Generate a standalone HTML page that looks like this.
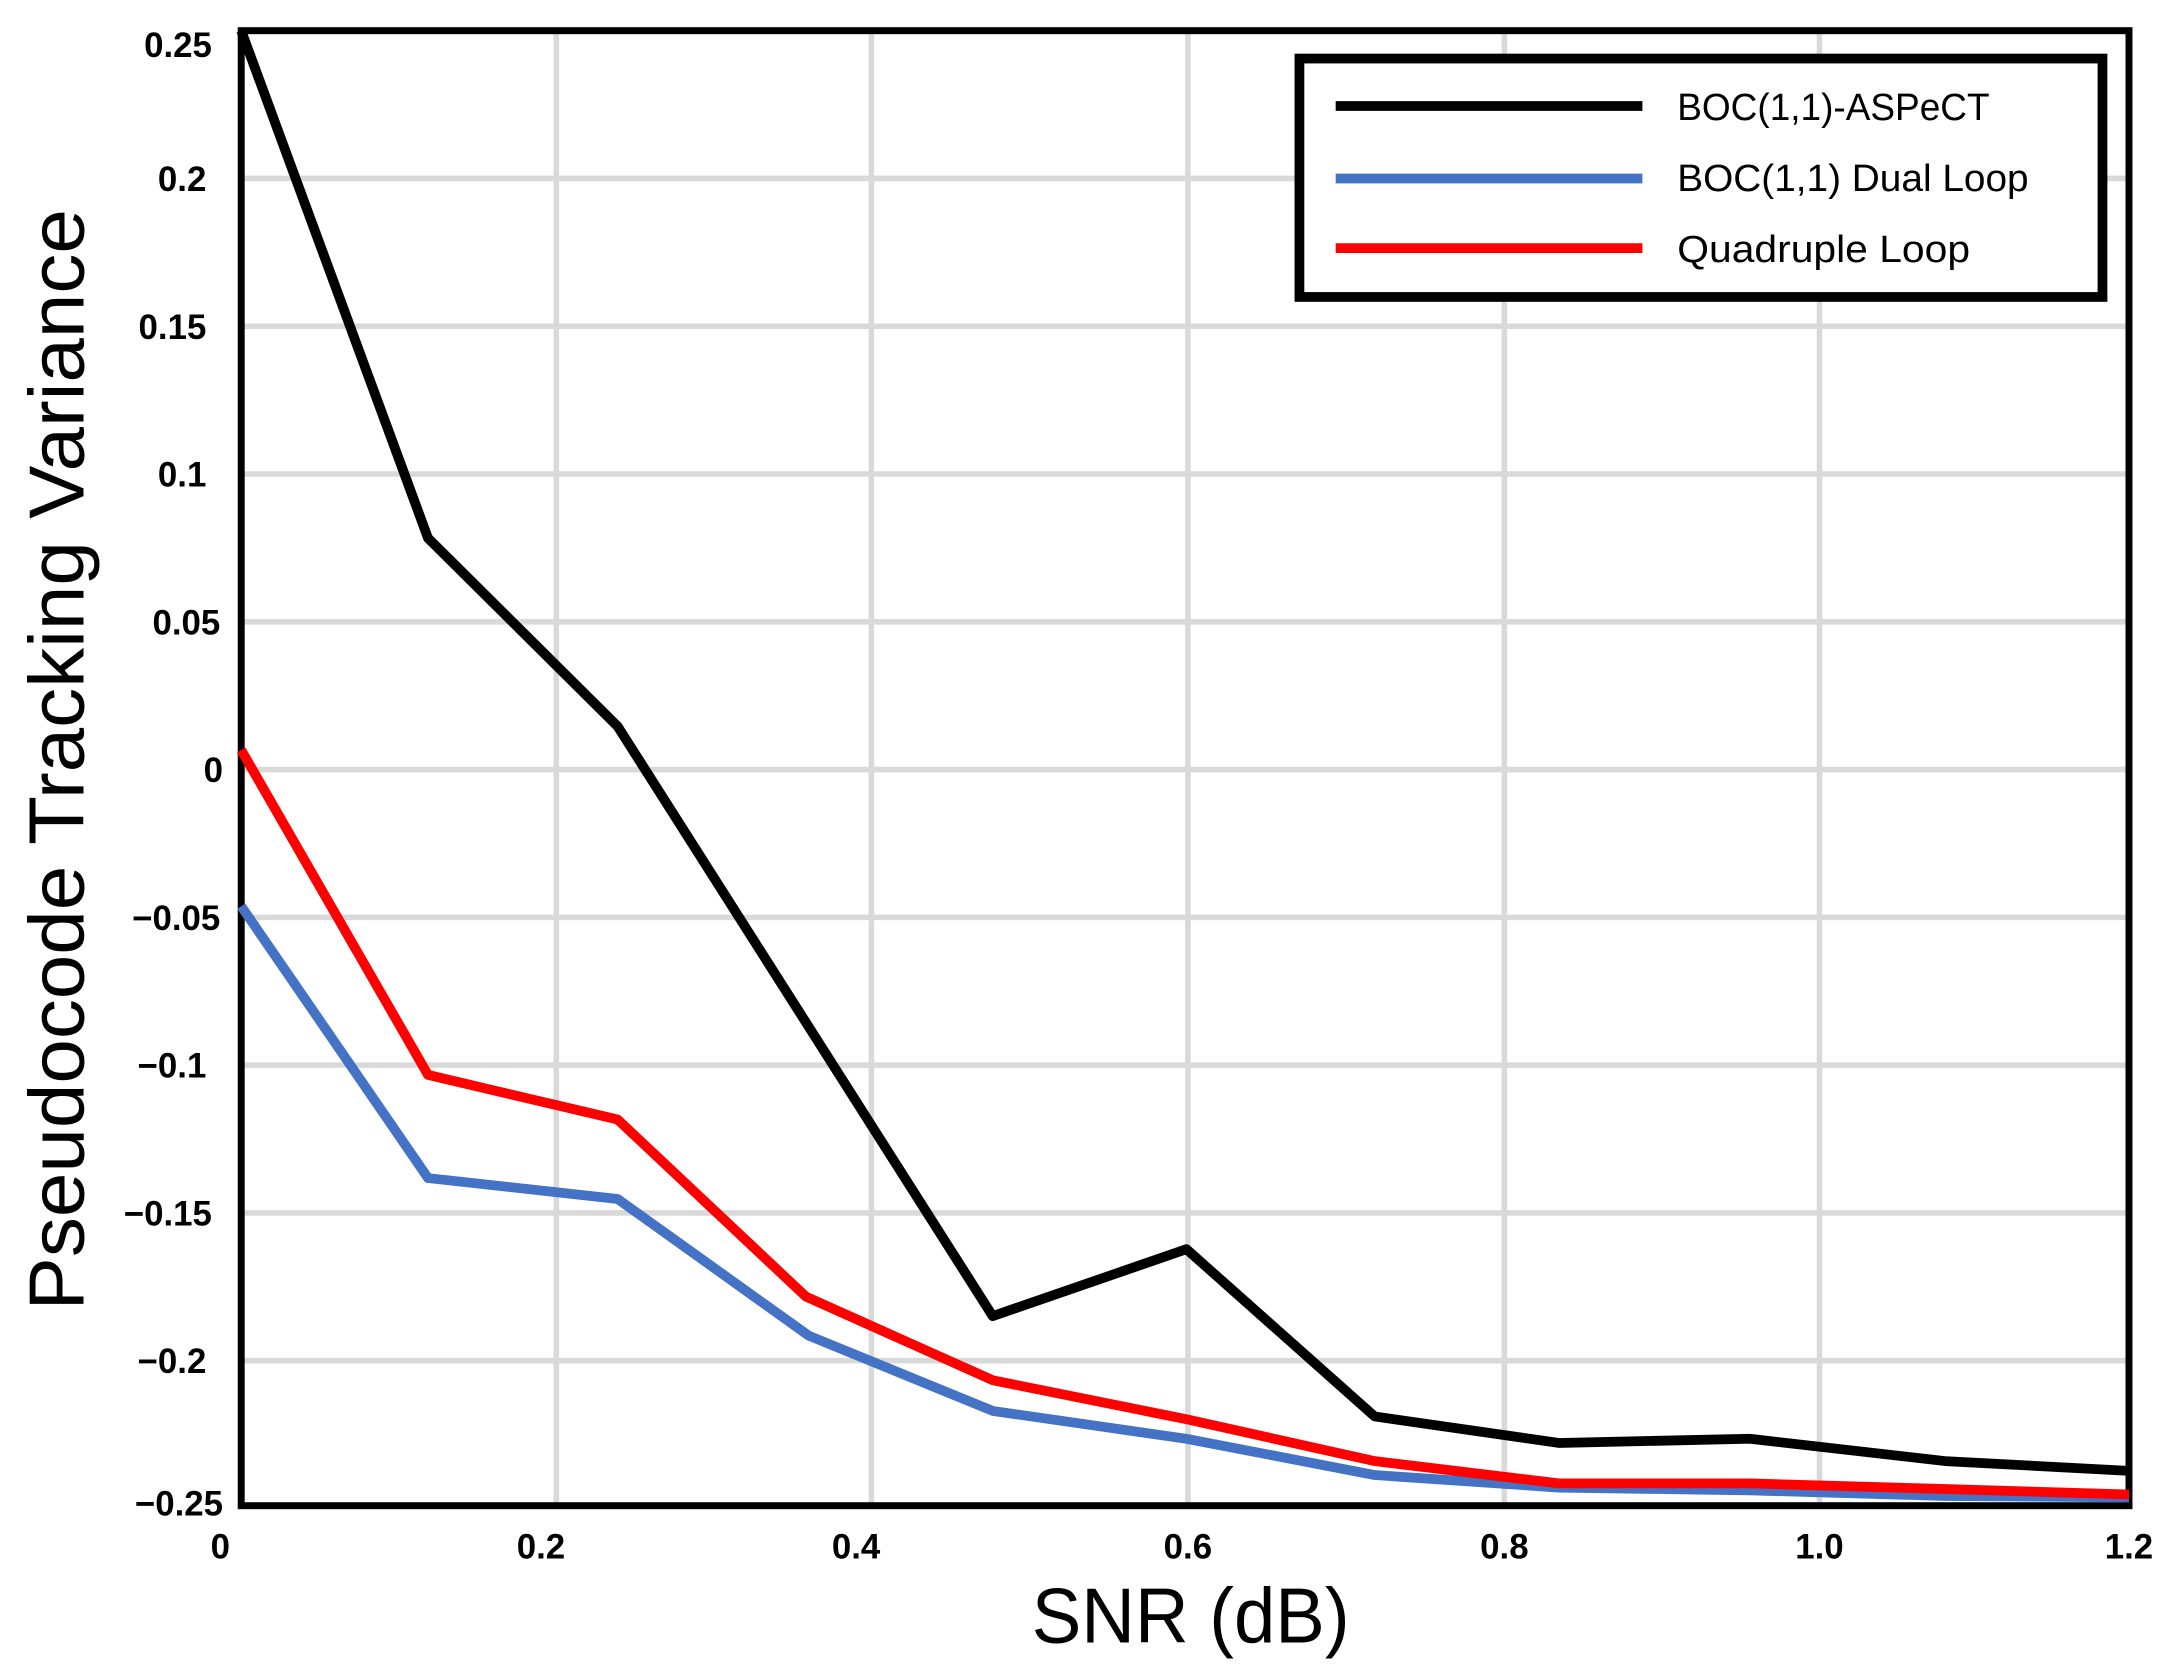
<!DOCTYPE html>
<html><head><meta charset="utf-8"><style>
html,body{margin:0;padding:0;background:#fff;}
svg{display:block;}
text{font-family:"Liberation Sans",sans-serif;}
</style></head><body>
<svg width="2175" height="1673" viewBox="0 0 1560 1200" preserveAspectRatio="none" xmlns="http://www.w3.org/2000/svg">
<g stroke="#d9d9d9" stroke-width="4">
<line x1="173" y1="128" x2="1527" y2="128"/>
<line x1="173" y1="234" x2="1527" y2="234"/>
<line x1="173" y1="340" x2="1527" y2="340"/>
<line x1="173" y1="446" x2="1527" y2="446"/>
<line x1="173" y1="552" x2="1527" y2="552"/>
<line x1="173" y1="658" x2="1527" y2="658"/>
<line x1="173" y1="764" x2="1527" y2="764"/>
<line x1="173" y1="870" x2="1527" y2="870"/>
<line x1="173" y1="976" x2="1527" y2="976"/>
<line x1="399" y1="22" x2="399" y2="1080"/>
<line x1="625" y1="22" x2="625" y2="1080"/>
<line x1="852" y1="22" x2="852" y2="1080"/>
<line x1="1079" y1="22" x2="1079" y2="1080"/>
<line x1="1305" y1="22" x2="1305" y2="1080"/>
</g>
<rect x="173" y="22" width="1354" height="1058" fill="none" stroke="#000" stroke-width="5"/>
<g fill="none" stroke-width="7" stroke-linejoin="round">
<polyline stroke="#4472c4" points="173,650 307,845 443,860 580,958 712,1012 851,1032 986,1058 1118,1067 1255,1069 1395,1073 1527,1074"/>
<polyline stroke="#ff0000" points="173,538 307,771 443,803 578,930 712,990 851,1018 986,1048 1118,1064 1255,1064 1395,1068 1527,1072"/>
<polyline stroke="#000" points="173,22 307,386 443,521 712,944 851,896 986,1016 1118,1035 1255,1032 1395,1048 1527,1055"/>
</g>
<rect x="932" y="42" width="576" height="171" fill="#fff" stroke="#000" stroke-width="7"/>
<line x1="958" y1="76" x2="1178" y2="76" stroke="#000" stroke-width="7"/>
<line x1="958" y1="128" x2="1178" y2="128" stroke="#4472c4" stroke-width="7"/>
<line x1="958" y1="178" x2="1178" y2="178" stroke="#ff0000" stroke-width="7"/>
<g font-size="27" fill="#000">
<text x="1203" y="86" textLength="224" lengthAdjust="spacingAndGlyphs">BOC(1,1)-ASPeCT</text>
<text x="1203" y="137" textLength="252" lengthAdjust="spacingAndGlyphs">BOC(1,1) Dual Loop</text>
<text x="1203" y="188" textLength="210" lengthAdjust="spacingAndGlyphs">Quadruple Loop</text>
</g>
<g font-size="25" font-weight="bold" text-anchor="end" fill="#000">
<text x="152" y="41">0.25</text>
<text x="148" y="137">0.2</text>
<text x="148" y="243">0.15</text>
<text x="148" y="349">0.1</text>
<text x="158" y="455">0.05</text>
<text x="160" y="561">0</text>
<text x="158" y="667">−0.05</text>
<text x="148" y="773">−0.1</text>
<text x="152" y="879">−0.15</text>
<text x="148" y="985">−0.2</text>
<text x="160" y="1087">−0.25</text>
</g>
<g font-size="25" font-weight="bold" text-anchor="middle" fill="#000">
<text x="158" y="1118">0</text>
<text x="388" y="1118">0.2</text>
<text x="614" y="1118">0.4</text>
<text x="852" y="1118">0.6</text>
<text x="1079" y="1118">0.8</text>
<text x="1305" y="1118">1.0</text>
<text x="1527" y="1118">1.2</text>
</g>
<text x="854" y="1178" font-size="56" text-anchor="middle" textLength="228" lengthAdjust="spacingAndGlyphs">SNR (dB)</text>
<text transform="translate(60,545) rotate(-90)" font-size="56" text-anchor="middle" textLength="790" lengthAdjust="spacingAndGlyphs">Pseudocode Tracking Variance</text>
</svg>
</body></html>
